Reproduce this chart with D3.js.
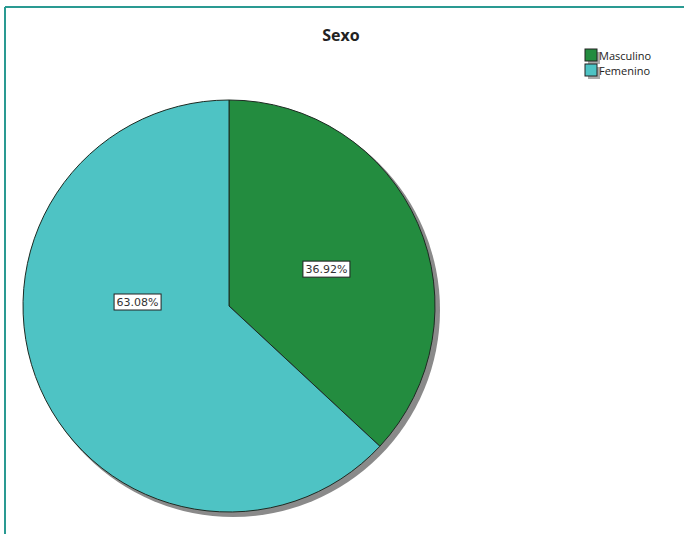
<!DOCTYPE html>
<html><head><meta charset="utf-8">
<script src="https://cdn.jsdelivr.net/npm/d3@7"></script>
<style>body{margin:0;background:#fff}svg{display:block}</style>
</head><body>
<script>
const categories = ["Masculino", "Femenino"];
const values = [36.92, 63.08];
const colors = ["#238c3f", "#4ec3c4"];
const title = "Sexo";

const W = 684, H = 534;
const svg = d3.select("body").append("svg").attr("width", W).attr("height", H);

// frame lines
svg.append("line").attr("x1",5).attr("y1",7).attr("x2",W).attr("y2",7).attr("stroke","#2a9a92").attr("stroke-width",2);
svg.append("line").attr("x1",5).attr("y1",7).attr("x2",5).attr("y2",H).attr("stroke","#2a9a92").attr("stroke-width",2);

svg.append("text").attr("x",341).attr("y",41).attr("text-anchor","middle")
  .attr("font-family","Open Sans, Liberation Sans, sans-serif").attr("font-weight","bold")
  .attr("font-size",16).attr("fill","#222").text(title);

const cx = 229, cy = 306, R = 206;
const pie = d3.pie().sort(null).value(d => d)(values);
const arc = d3.arc().innerRadius(0).outerRadius(R);

const g = svg.append("g").attr("transform",`translate(${cx},${cy})`);
// shadow
g.append("circle").attr("cx",4).attr("cy",4).attr("r",R+1).attr("fill","#8a8a8a");
const slices = g.selectAll("path.slice").data(pie).join("path").attr("class","slice")
  .attr("d",arc).attr("fill",(d,i)=>colors[i]).attr("stroke","#1d2a22").attr("stroke-width",1);

const labelArc = d3.arc().innerRadius(R*0.5).outerRadius(R*0.5);
const boxes = slices.nodes().map(n => n.getBBox());
const lab = g.selectAll("g.lab").data(pie).join("g").attr("class","lab")
  .attr("transform",(d,i)=>{
    const c = labelArc.centroid(d);
    const b = boxes[i];
    const y = (b.y + b.height/2 + c[1]) / 2 * 0 + (b.y + b.height/2) - 4;
    return `translate(${c[0]+3},${y})`;
  });
lab.append("rect").attr("x",-23.5).attr("y",-8).attr("width",47).attr("height",16)
  .attr("fill","#fff").attr("stroke","#222").attr("stroke-width",1);
lab.append("text").attr("text-anchor","middle").attr("y",4)
  .attr("font-family","DejaVu Sans, sans-serif").attr("font-size",11).attr("fill","#333")
  .text((d,i)=>values[i].toFixed(2)+"%");

// legend
const leg = svg.append("g").attr("transform","translate(585,49)");
const li = leg.selectAll("g").data(categories).join("g").attr("transform",(d,i)=>`translate(0,${i*15})`);
li.append("rect").attr("x",3).attr("y",3).attr("width",12).attr("height",12).attr("fill","#aaa");
li.append("rect").attr("width",12).attr("height",12).attr("fill",(d,i)=>colors[i]).attr("stroke","#222").attr("stroke-width",1);
li.append("text").attr("x",14).attr("y",10.5).attr("font-family","Open Sans, Liberation Sans, sans-serif")
  .attr("font-size",11).attr("fill","#222").text(d=>d);
</script>
</body></html>
